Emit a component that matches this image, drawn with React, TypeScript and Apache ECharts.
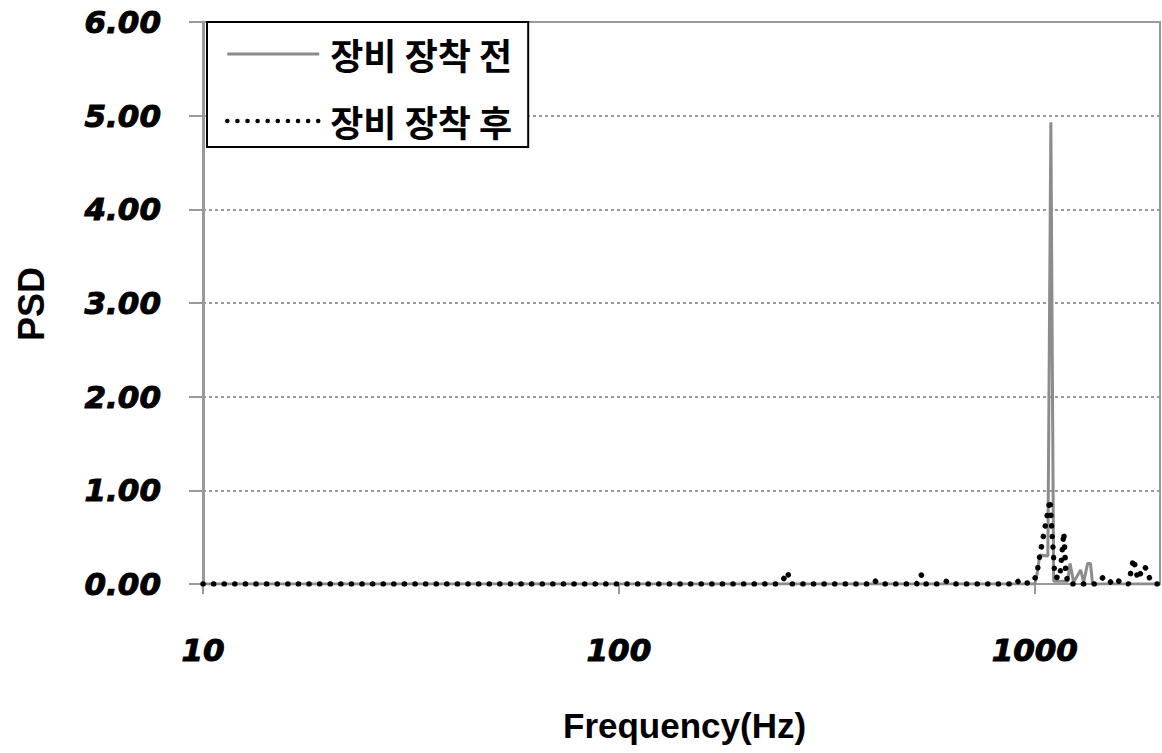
import React, { useEffect, useRef } from "react";
import * as echarts from "echarts";

// 장비 장착 전 (before) — frequency (Hz) and PSD
const beforeFreq = [10, 1000, 1012, 1028, 1075, 1093, 1110, 1200, 1215, 1240, 1289, 1310, 1340, 1361, 1377, 2000];
const beforePsd = [0, 0, 0.1, 0.31, 0.3, 4.93, 0.03, 0.03, 0.22, 0.02, 0.15, 0.02, 0.22, 0.22, 0, 0];

// 장비 장착 후 (after) — frequency (Hz) and PSD
const afterFreq = [10, 240, 248, 254, 260, 400, 411, 422, 520, 533, 545, 600, 612, 625, 900, 910, 920, 990, 1011, 1023, 1088, 1117, 1148, 1174, 1187, 1200, 1400, 1468, 1540, 1580, 1630, 1680, 1727, 1769, 1829, 1847, 1893, 1948, 2000];
const afterPsd = [0, 0, 0.04, 0.13, 0, 0, 0.04, 0, 0, 0.1, 0, 0, 0.03, 0, 0, 0.03, 0, 0.02, 0.1, 0.25, 0.9, 0.08, 0.06, 0.55, 0.15, 0, 0, 0.08, 0, 0.04, 0, 0, 0.27, 0.05, 0.19, 0.17, 0.05, 0, 0];

const seriesNames = ["장비 장착 전", "장비 장착 후"];
const xTitle = "Frequency(Hz)";
const yTitle = "PSD";

const tickFont = {
  fontFamily: "DejaVu Sans",
  fontWeight: "bold" as const,
  fontStyle: "italic" as const,
  fontSize: 31,
  color: "#000",
  textBorderColor: "#000",
  textBorderWidth: 1,
};

export default function App() {
  const ref = useRef<HTMLDivElement>(null);
  useEffect(() => {
    if (!ref.current) return;
    const chart = echarts.init(ref.current, undefined, { renderer: "svg" });
    const gray = "#8c8c8c";
    const beforeLine = { color: gray, width: 3 };
    const afterLine = { color: "#000", width: 5.5, type: [0.1, 10.5], cap: "round" };
    chart.setOption({
      animation: false,
      backgroundColor: "#fff",
      grid: {
        left: 203,
        right: 2,
        top: 22,
        bottom: 169,
        show: true,
        borderColor: "#999",
        borderWidth: 2,
        containLabel: false,
        outerBoundsMode: "none",
      },
      legend: {
        left: 207,
        top: 22,
        orient: "vertical",
        backgroundColor: "#fff",
        borderColor: "#000",
        borderWidth: 2,
        borderRadius: 0,
        padding: [14, 16, 8, 18],
        itemWidth: 92,
        itemHeight: 36,
        itemGap: 31,
        itemStyle: { opacity: 0 },
        textStyle: {
          fontFamily: "Noto Sans CJK KR",
          fontWeight: "bold",
          fontSize: 36,
          lineHeight: 36,
          color: "#000",
          padding: [0, 0, 0, 6],
        },
        data: [
          { name: seriesNames[0], itemStyle: { opacity: 0 }, lineStyle: { ...beforeLine } },
          { name: seriesNames[1], itemStyle: { opacity: 0 }, lineStyle: { color: "#000", width: 4.5, type: [0.1, 10], cap: "round" } },
        ],
      },
      xAxis: {
        type: "log",
        logBase: 10,
        min: 10,
        max: 2000,
        axisLine: { show: true, lineStyle: { color: "#999", width: 2 } },
        axisTick: { show: true, length: 10, lineStyle: { color: "#999", width: 2 } },
        axisLabel: {
          ...tickFont,
          margin: 50,
          showMaxLabel: false,
          formatter: (v: number) => String(Math.round(v)),
        },
        splitLine: { show: false },
        minorTick: { show: false },
      },
      yAxis: {
        type: "value",
        min: 0,
        max: 6,
        interval: 1,
        axisLine: { show: true, lineStyle: { color: "#999", width: 3 } },
        axisTick: { show: true, length: 14, lineStyle: { color: "#999", width: 2 } },
        axisLabel: {
          ...tickFont,
          margin: 42,
          formatter: (v: number) => v.toFixed(2),
        },
        splitLine: {
          show: true,
          lineStyle: { color: "#999", width: 2, type: [3, 3] },
        },
      },
      series: [
        {
          name: seriesNames[0],
          type: "line",
          symbol: "none",
          data: beforeFreq.map((f, i) => [f, beforePsd[i]]),
          lineStyle: beforeLine,
          itemStyle: { color: gray },
        },
        {
          name: seriesNames[1],
          type: "line",
          symbol: "none",
          data: afterFreq.map((f, i) => [f, afterPsd[i]]),
          lineStyle: afterLine,
          itemStyle: { color: "#000" },
        },
      ],
      graphic: [
        {
          type: "text",
          left: 563,
          top: 708,
          style: {
            text: xTitle,
            font: "bold 35px 'Liberation Sans'",
            fill: "#000",
          },
        },
        {
          type: "text",
          x: 31,
          y: 304,
          rotation: Math.PI / 2,
          style: {
            text: yTitle,
            font: "bold 36px 'Liberation Sans'",
            fill: "#000",
            align: "center",
            verticalAlign: "middle",
          },
        },
      ],
    });
    return () => chart.dispose();
  }, []);
  return (
    <div
      ref={ref}
      style={{ position: "fixed", left: 0, top: 0, width: 1162, height: 753 }}
    />
  );
}
